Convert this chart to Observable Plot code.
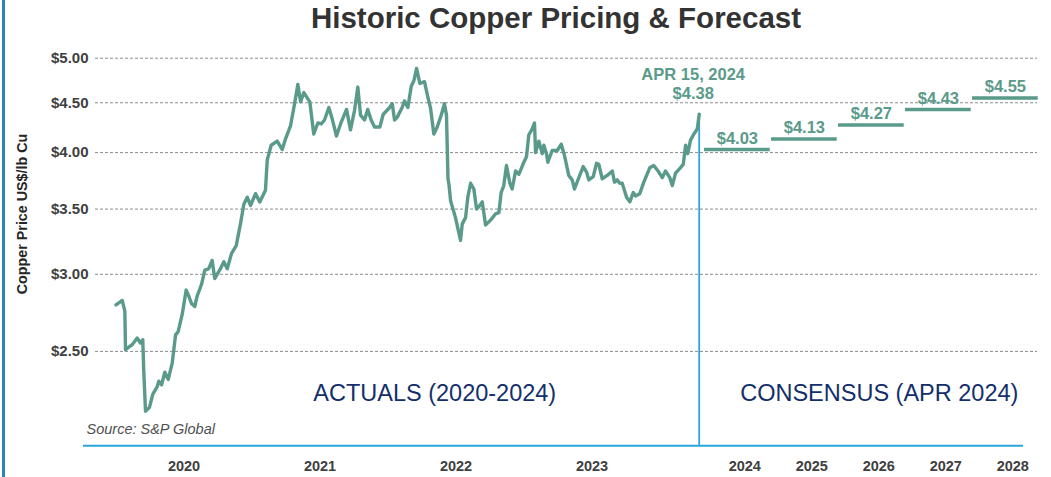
<!DOCTYPE html>
<html>
<head>
<meta charset="utf-8">
<script src="https://cdn.jsdelivr.net/npm/d3@7"></script>
<script src="https://cdn.jsdelivr.net/npm/@observablehq/plot@0.6"></script>
<style>
  html, body { margin: 0; padding: 0; background: #fff; }
  #wrap { position: relative; width: 1051px; height: 477px; background: #fff; overflow: hidden;
          font-family: "Liberation Sans", Arial, Helvetica, sans-serif; }
  #stripe { position: absolute; left: 2px; top: 0; width: 3px; height: 477px; background: #2b87b6; }
  #title { height: 38px; line-height: 36px; padding-left: 61px; text-align: center;
           font-size: 29.5px; font-weight: bold; color: #333333; white-space: nowrap; }
  #chart svg { display: block; }
</style>
</head>
<body>
<div id="wrap">
  <div id="stripe"></div>
  <div id="title">Historic Copper Pricing &amp; Forecast</div>
  <div id="chart"></div>
</div>
<script>
// ---- Data ----
// Actual copper price, US$/lb, dated as decimal years
const actualYears = [
  2020.000, 2020.046, 2020.065, 2020.070, 2020.119, 2020.156, 2020.180, 2020.197, 2020.204, 2020.217,
  2020.246, 2020.271, 2020.303, 2020.315, 2020.335, 2020.359, 2020.384, 2020.413, 2020.438, 2020.457,
  2020.487, 2020.516, 2020.535, 2020.555, 2020.579, 2020.597, 2020.629, 2020.653, 2020.682, 2020.707,
  2020.726, 2020.768, 2020.793, 2020.818, 2020.849, 2020.884, 2020.915, 2020.940, 2020.965, 2020.989,
  2021.026, 2021.057, 2021.099, 2021.112, 2021.141, 2021.185, 2021.222, 2021.246, 2021.283, 2021.313,
  2021.337, 2021.357, 2021.381, 2021.425, 2021.454, 2021.484, 2021.509, 2021.533, 2021.565, 2021.590,
  2021.621, 2021.651, 2021.695, 2021.724, 2021.754, 2021.778, 2021.798, 2021.827, 2021.851, 2021.876,
  2021.901, 2021.940, 2021.965, 2022.006, 2022.031, 2022.048, 2022.068, 2022.104, 2022.121, 2022.146,
  2022.171, 2022.190, 2022.210, 2022.234, 2022.268, 2022.293, 2022.313, 2022.337, 2022.362, 2022.391,
  2022.415, 2022.430, 2022.436, 2022.441, 2022.449, 2022.460, 2022.496, 2022.533, 2022.546, 2022.570,
  2022.587, 2022.607, 2022.631, 2022.651, 2022.668, 2022.693, 2022.717, 2022.754, 2022.790, 2022.815,
  2022.832, 2022.851, 2022.871, 2022.896, 2022.913, 2022.938, 2022.962, 2022.999, 2023.018, 2023.035,
  2023.060, 2023.077, 2023.085, 2023.109, 2023.134, 2023.146, 2023.165, 2023.175, 2023.207, 2023.244,
  2023.274, 2023.298, 2023.329, 2023.354, 2023.371, 2023.403, 2023.435, 2023.460, 2023.476, 2023.509,
  2023.533, 2023.550, 2023.575, 2023.612, 2023.649, 2023.665, 2023.685, 2023.704, 2023.722, 2023.754,
  2023.778, 2023.803, 2023.820, 2023.851, 2023.881, 2023.925, 2023.954, 2023.991, 2024.016, 2024.040,
  2024.072, 2024.090, 2024.114, 2024.151, 2024.171, 2024.188, 2024.204, 2024.224, 2024.249, 2024.274,
  2024.288
];
const actualPrices = [
  2.79, 2.82, 2.75, 2.51, 2.54, 2.58, 2.55, 2.57, 2.39, 2.17,
  2.19, 2.26, 2.30, 2.33, 2.31, 2.38, 2.34, 2.43, 2.60, 2.62,
  2.73, 2.89, 2.85, 2.80, 2.78, 2.85, 2.93, 3.03, 3.04, 3.10,
  2.97, 3.04, 3.09, 3.04, 3.15, 3.21, 3.38, 3.54, 3.60, 3.53,
  3.63, 3.56, 3.66, 3.93, 4.07, 4.11, 4.03, 4.13, 4.26, 4.49,
  4.70, 4.51, 4.61, 4.51, 4.18, 4.29, 4.28, 4.32, 4.45, 4.33,
  4.16, 4.28, 4.43, 4.22, 4.42, 4.67, 4.37, 4.32, 4.43, 4.32,
  4.25, 4.25, 4.38, 4.44, 4.49, 4.32, 4.35, 4.45, 4.52, 4.45,
  4.68, 4.74, 4.88, 4.71, 4.73, 4.56, 4.44, 4.18, 4.25, 4.37,
  4.49, 4.37, 4.02, 3.76, 3.70, 3.57, 3.43, 3.25, 3.38, 3.43,
  3.60, 3.72, 3.67, 3.50, 3.52, 3.56, 3.37, 3.41, 3.46, 3.47,
  3.64, 3.70, 3.88, 3.72, 3.67, 3.83, 3.80, 3.91, 3.96, 4.17,
  4.23, 4.29, 4.00, 4.11, 3.99, 4.07, 3.99, 3.91, 4.02, 4.02,
  4.08, 3.97, 3.79, 3.75, 3.67, 3.77, 3.87, 3.82, 3.75, 3.78,
  3.90, 3.89, 3.76, 3.79, 3.83, 3.73, 3.75, 3.72, 3.72, 3.60,
  3.56, 3.64, 3.61, 3.63, 3.73, 3.86, 3.88, 3.82, 3.77, 3.83,
  3.77, 3.70, 3.81, 3.86, 3.89, 4.07, 3.99, 4.12, 4.18, 4.23,
  4.38
];
const markerLabel = "APR 15, 2024";
const markerPrice = 4.38;

// Consensus forecast (Apr 2024)
const forecastYears = [2024, 2025, 2026, 2027, 2028];
const forecastPrices = [4.03, 4.13, 4.27, 4.43, 4.55];

// Axis ticks / labels
const yTicks = [2.5, 3.0, 3.5, 4.0, 4.5, 5.0];
const actualTickYears = [2020, 2021, 2022, 2023];
const yAxisTitle = "Copper Price US$/lb Cu";
const actualsLabel = "ACTUALS (2020-2024)";
const consensusLabel = "CONSENSUS (APR 2024)";
const sourceLabel = "Source: S&P Global";

// ---- Build ----
const teal = "#5a9a8a";
const blue = "#2aa6df";
const navy = "#132f6b";
const grey = "#404040";

const actual = actualYears.map((t, i) => ({t, p: actualPrices[i]}));
const split = actualYears[actualYears.length - 1];   // Apr 15, 2024
// forecast years occupy equal "slots" to the right of the split
const forecast = forecastYears.map((year, i) => ({
  year, price: forecastPrices[i],
  x1: split + i + 0.08, x2: split + i + 1.06,
  xm: split + i + 0.57, xt: split + i + 0.68
}));

const font = "Liberation Sans, Arial, Helvetica, sans-serif";

const chart = Plot.plot({
  width: 1051,
  height: 439,
  marginTop: 19.7,
  marginBottom: 31.7,
  marginLeft: 95,
  marginRight: 14,
  style: {fontFamily: font, background: "transparent", overflow: "visible"},
  x: {type: "linear", domain: [2020, split, split + 5.2], range: [115.5, 698.7, 1047.1], axis: null},
  y: {type: "log", domain: [2, 5], axis: null},
  marks: [
    Plot.gridY(yTicks, {stroke: "#8c8c8c", strokeOpacity: 1, strokeWidth: 1, strokeDasharray: "3,2"}),
    Plot.text(yTicks, {y: d => d, text: d => "$" + d.toFixed(2), frameAnchor: "left", textAnchor: "end",
      lineAnchor: "middle", dx: -7, fontSize: 15, fontWeight: "bold", fill: grey}),
    Plot.text([yAxisTitle], {frameAnchor: "left", rotate: -90, textAnchor: "middle", lineAnchor: "middle",
      dx: -73, dy: -38, fontSize: 14.3, fontWeight: "bold", fill: "#262626"}),
    Plot.ruleY([2], {stroke: blue, strokeWidth: 2, insetLeft: -12, insetRight: 14}),
    Plot.ruleX([split], {y1: markerPrice, y2: 2, stroke: blue, strokeWidth: 1.8}),
    Plot.line(actual, {x: "t", y: "p", stroke: teal, strokeWidth: 3.4, strokeLinejoin: "round", strokeLinecap: "round"}),
    Plot.ruleY(forecast, {x1: "x1", x2: "x2", y: "price", stroke: teal, strokeWidth: 3.5}),
    Plot.text(forecast, {x: "xm", y: "price", text: d => "$" + d.price.toFixed(2), dy: -11,
      lineAnchor: "middle", fontSize: 16.5, fontWeight: "bold", fill: teal}),
    Plot.text([{label: markerLabel, price: markerPrice}], {x: () => split, y: "price",
      text: d => d.label + "\n$" + d.price.toFixed(2), dx: -6, dy: -31, lineHeight: 1.2,
      lineAnchor: "middle", fontSize: 16.5, fontWeight: "bold", fill: teal}),
    Plot.text(actualTickYears, {x: d => d + 0.5, text: d => String(d), frameAnchor: "bottom",
      lineAnchor: "middle", dy: 20.5, fontSize: 14.5, fontWeight: "bold", fill: grey}),
    Plot.text(forecast, {x: "xt", text: d => String(d.year), frameAnchor: "bottom",
      lineAnchor: "middle", dy: 20.5, fontSize: 14.5, fontWeight: "bold", fill: grey}),
    Plot.text([actualsLabel], {x: () => split, frameAnchor: "bottom", textAnchor: "end", lineAnchor: "middle",
      dx: -143, dy: -52, fontSize: 23.5, fill: navy}),
    Plot.text([consensusLabel], {x: () => split, frameAnchor: "bottom", textAnchor: "start", lineAnchor: "middle",
      dx: 41, dy: -52, fontSize: 23.5, fill: navy}),
    Plot.text([sourceLabel], {frameAnchor: "bottom-left", textAnchor: "start", lineAnchor: "middle",
      dx: -9, dy: -16.5, fontSize: 14.5, fontStyle: "italic", fill: "#505050"})
  ]
});
document.getElementById("chart").appendChild(chart);
</script>
</body>
</html>
